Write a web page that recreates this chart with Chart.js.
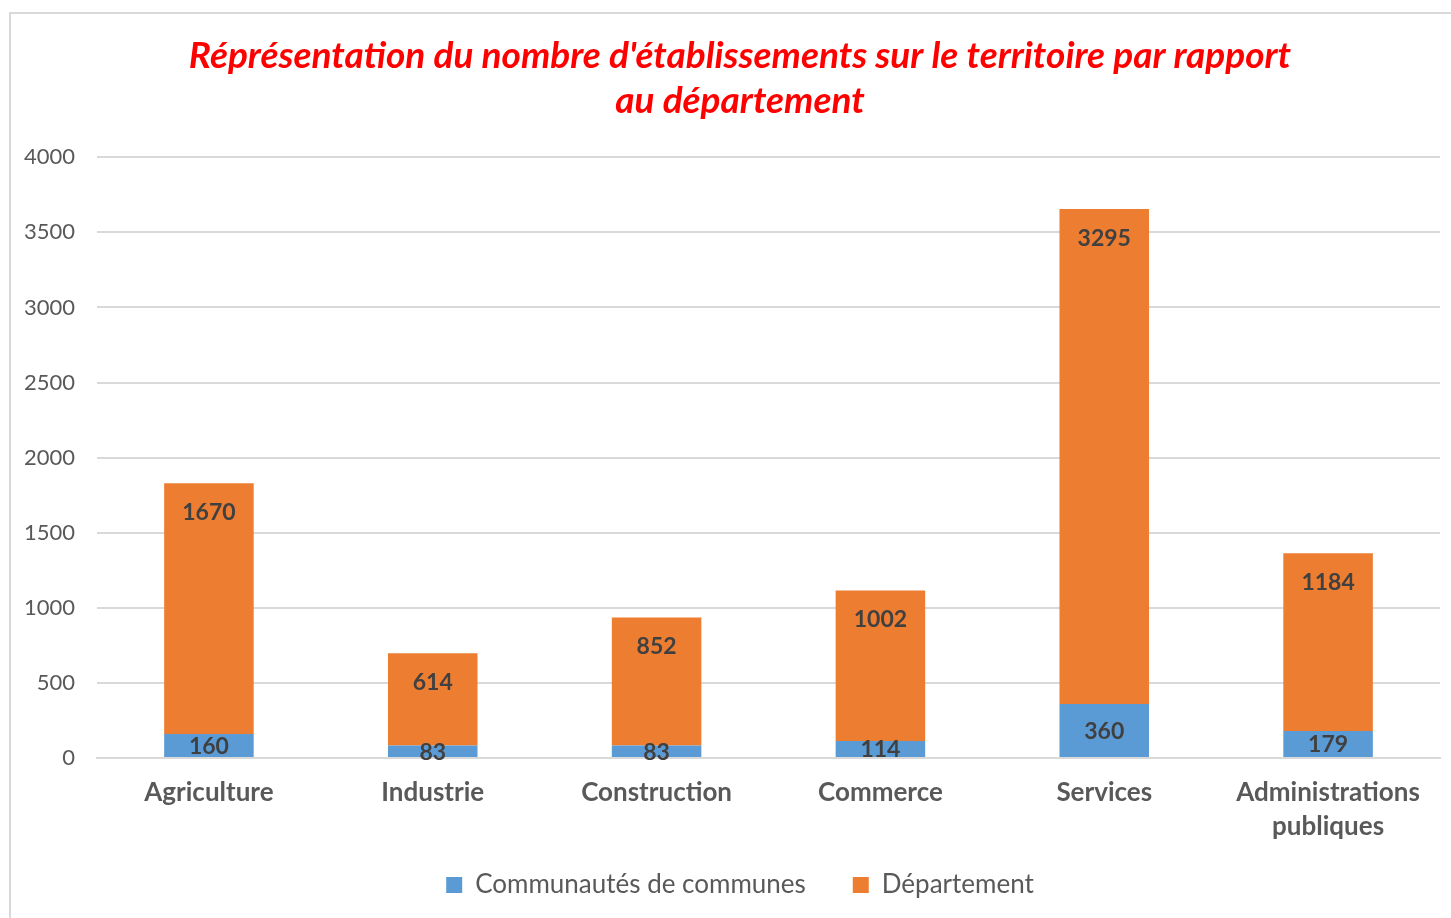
<!DOCTYPE html>
<html>
<head>
<meta charset="utf-8">
<script src="https://cdn.jsdelivr.net/npm/chart.js@4.4.0/dist/chart.umd.min.js"></script>
<style>
    html, body { margin: 0; padding: 0; background: #fff; overflow: hidden; }
    #frame {
        position: absolute;
        left: 9px;
        top: 12px;
        width: 1462px;
        height: 940px;
        border: 2px solid #d9d9d9;
        box-sizing: border-box;
    }
    #chartWrap {
        position: absolute;
        left: 0;
        top: 0;
        width: 1458px;
        height: 904px;
    }
</style>
</head>
<body>
<div id="frame">
    <div id="chartWrap"><canvas id="etabChart"></canvas></div>
</div>
<script>
// Données
const categories = ['Agriculture', 'Industrie', 'Construction', 'Commerce', 'Services', ['Administrations', 'publiques']];
const communautes = [160, 83, 83, 114, 360, 179];
const departement = [1670, 614, 852, 1002, 3295, 1184];
const yTicks = [0, 500, 1000, 1500, 2000, 2500, 3000, 3500, 4000];

const FONT = 'Lato, "Open Sans", sans-serif';

// les libellés d'axe débordent de la boîte de l'échelle, on enlève le clip
const noLabelClip = (scale) => { scale._computeLabelArea = () => undefined; };

// Etiquettes de valeurs : centrées pour le bleu, en haut à l'intérieur pour l'orange
const valueLabels = {
    id: 'valueLabels',
    afterDatasetsDraw(chart) {
        const ctx = chart.ctx;
        ctx.save();
        ctx.font = 'bold 23px ' + FONT;
        ctx.fillStyle = '#404040';
        ctx.textAlign = 'center';
        ctx.textBaseline = 'middle';
        chart.data.datasets.forEach((ds, i) => {
            const meta = chart.getDatasetMeta(i);
            meta.data.forEach((bar, j) => {
                const y = i === 0 ? (bar.y + bar.base) / 2 + 1 : bar.y + 29;
                ctx.fillText(String(ds.data[j]), bar.x, y);
            });
        });
        ctx.restore();
    }
};

document.addEventListener('DOMContentLoaded', () => {
    const ctx = document.getElementById('etabChart');
    new Chart(ctx, {
        type: 'bar',
        data: {
            labels: categories,
            datasets: [{
                label: 'Communautés de communes',
                data: communautes,
                backgroundColor: '#5B9BD5',
                barPercentage: 0.4,
                categoryPercentage: 1.0
            }, {
                label: 'Département',
                data: departement,
                backgroundColor: '#ED7D31',
                barPercentage: 0.4,
                categoryPercentage: 1.0
            }]
        },
        options: {
            responsive: true,
            maintainAspectRatio: false,
            animation: false,
            layout: {
                padding: { left: 29, right: 29, top: 0, bottom: 10 }
            },
            scales: {
                x: {
                    stacked: true,
                    afterFit(scale) { scale.height = 67; noLabelClip(scale); },
                    grid: { display: false, drawTicks: false },
                    border: { color: '#d9d9d9', width: 2 },
                    ticks: {
                        color: '#595959',
                        font: { family: FONT, size: 26, weight: 'bold', lineHeight: 1.3 },
                        padding: 18,
                        maxRotation: 0,
                        autoSkip: false
                    }
                },
                y: {
                    stacked: true,
                    min: 0,
                    max: 4000,
                    afterFit(scale) { scale.width = 57; noLabelClip(scale); },
                    afterBuildTicks(scale) { scale.ticks = yTicks.map(v => ({ value: v })); },
                    grid: { color: '#d9d9d9', lineWidth: 2, drawTicks: false },
                    border: { display: false },
                    ticks: {
                        color: '#595959',
                        font: { family: FONT, size: 22 },
                        padding: 22,
                        callback: (v) => String(v)
                    }
                }
            },
            plugins: {
                title: {
                    display: true,
                    text: ["Réprésentation du nombre d'établissements sur le territoire par rapport", 'au département'],
                    color: '#FF0000',
                    font: { family: FONT, size: 37, weight: 'bold', style: 'italic', lineHeight: 1.22 },
                    padding: { top: 19, bottom: 34 }
                },
                legend: {
                    position: 'bottom',
                    labels: {
                        color: '#595959',
                        font: { family: FONT, size: 26 },
                        boxWidth: 16,
                        boxHeight: 16,
                        padding: 47
                    }
                },
                tooltip: { enabled: false }
            }
        },
        plugins: [valueLabels]
    });
});
</script>
</body>
</html>
